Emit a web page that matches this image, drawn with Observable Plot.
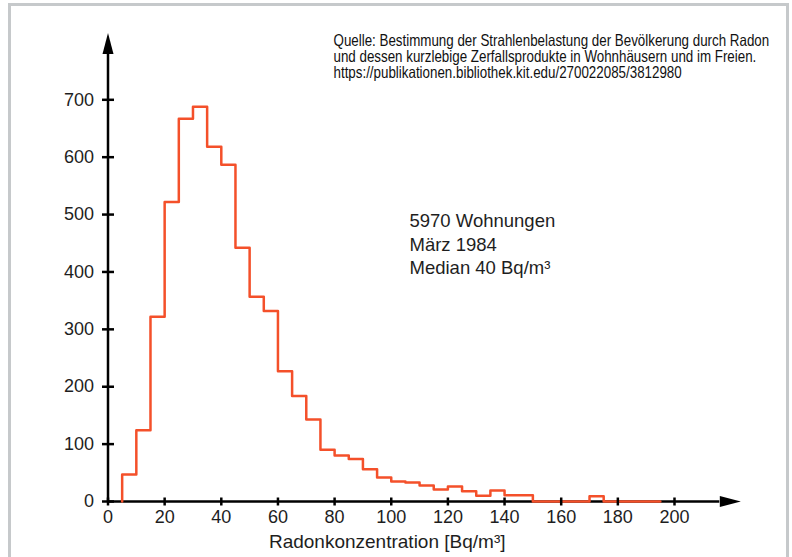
<!DOCTYPE html>
<html>
<head>
<meta charset="utf-8">
<script src="https://cdn.jsdelivr.net/npm/d3@7"></script>
<script src="https://cdn.jsdelivr.net/npm/@observablehq/plot@0.6"></script>
<style>
  html, body { margin: 0; padding: 0; background: #fff; }
  #wrap { position: relative; width: 792px; height: 557px; overflow: hidden; background: #fff; }
  #frame { position: absolute; left: 8px; top: 3px; width: 775px; height: 600px;
           border: 3px solid #c6c9cb; border-bottom: none; pointer-events: none; }
</style>
</head>
<body>
<div id="wrap"><div id="chart"></div><div id="frame"></div></div>
<script>
// ---- data ----
const binStart = [5, 10, 15, 20, 25, 30, 35, 40, 45, 50, 55, 60, 65, 70, 75, 80, 85, 90, 95, 100,
                  105, 110, 115, 120, 125, 130, 135, 140, 145, 150, 155, 160, 165, 170, 175, 180, 185, 190];
const counts   = [47, 124, 322, 522, 667, 688, 618, 587, 442, 357, 332, 227, 184, 143, 90, 80, 74, 56, 42, 35,
                  33, 28, 21, 26, 18, 10, 19, 11, 11, 0, 0, 0, 0, 9, 0, 0, 0, 0];
const binWidth = 5;
const xTicks = [0, 20, 40, 60, 80, 100, 120, 140, 160, 180, 200];
const yTicks = [0, 100, 200, 300, 400, 500, 600, 700];
const xAxisEnd = 216;
const yAxisEnd = 780;
const xLabel = "Radonkonzentration [Bq/m³]";
const noteLines = ["5970 Wohnungen", "März 1984", "Median 40 Bq/m³"];
const sourceLines = [
  "Quelle: Bestimmung der Strahlenbelastung der Bevölkerung durch Radon",
  "und dessen kurzlebige Zerfallsprodukte in Wohnhäusern und im Freien.",
  "https://publikationen.bibliothek.kit.edu/270022085/3812980"
];

// step outline of the histogram
const steps = [{x: binStart[0], y: 0}]
  .concat(binStart.map((x, i) => ({x, y: counts[i]})))
  .concat([{x: binStart[binStart.length - 1] + binWidth, y: 0}]);

// custom symbols
const arrowHead = {draw(ctx) { ctx.moveTo(0, -21); ctx.lineTo(5.5, 0); ctx.lineTo(-5.5, 0); ctx.closePath(); }};
const hTick = {draw(ctx) { ctx.moveTo(-6, 0); ctx.lineTo(6, 0); }};
const vTick = {draw(ctx) { ctx.moveTo(0, -4); ctx.lineTo(0, 4); }};

const red = "#f4502a";
const ink = "#1e1e1e";

const chart = Plot.plot({
  width: 792,
  height: 557,
  margin: 0,
  x: {domain: [0, 200], range: [107.5, 674], axis: null},
  y: {domain: [0, 700], range: [501, 99.3], axis: null},
  style: {fontFamily: "'Liberation Sans', Arial, sans-serif", background: "white", overflow: "visible"},
  marks: [
    // axes
    Plot.ruleY([0], {x1: 0, x2: xAxisEnd, stroke: "black", strokeWidth: 2.5}),
    Plot.ruleX([0], {y1: 0, y2: yAxisEnd, stroke: "black", strokeWidth: 2.5}),
    Plot.dot([0], {x: 0, y: yAxisEnd, symbol: arrowHead, fill: "black"}),
    Plot.dot([0], {x: xAxisEnd, y: 0, symbol: arrowHead, rotate: 90, fill: "black"}),
    // histogram outline
    Plot.line(steps, {x: "x", y: "y", curve: "step-after", stroke: red, strokeWidth: 2.5}),
    // ticks
    Plot.dot(yTicks, {x: 0, y: d => d, symbol: hTick, stroke: "black", fill: "none", strokeWidth: 2.5}),
    Plot.dot(xTicks, {x: d => d, y: 0, symbol: vTick, stroke: "black", fill: "none", strokeWidth: 2.5}),
    // tick labels
    Plot.text(xTicks, {x: d => d, y: 0, dy: 16, text: d => `${d}`, fontSize: 18, fill: ink}),
    Plot.text(yTicks, {x: 0, y: d => d, dx: -14, textAnchor: "end", text: d => `${d}`, fontSize: 18, fill: ink}),
    // axis title
    Plot.text([xLabel], {frameAnchor: "top-left", dx: 386.7, dy: 547, text: d => d,
      textAnchor: "middle", lineAnchor: "bottom", fontSize: 19, fill: ink}),
    // annotation
    Plot.text([noteLines.join("\n")], {frameAnchor: "top-left", dx: 409, dy: 210, text: d => d,
      textAnchor: "start", lineAnchor: "top", fontSize: 18.5, lineHeight: 1.27, fill: ink}),
    // source
    Plot.text([sourceLines.join("\n")], {frameAnchor: "top-left", dx: 333, dy: 34.5, text: d => d,
      textAnchor: "start", lineAnchor: "top", fontSize: 16.3, lineHeight: 0.98, fill: "#111"})
  ]
});

// condense the source note horizontally (no narrow font installed)
d3.select(chart).selectAll("text")
  .filter(function() { return this.textContent.startsWith("Quelle"); })
  .attr("transform", function() { return (this.getAttribute("transform") || "") + " scale(0.82,1)"; });

document.getElementById("chart").appendChild(chart);
</script>
</body>
</html>
